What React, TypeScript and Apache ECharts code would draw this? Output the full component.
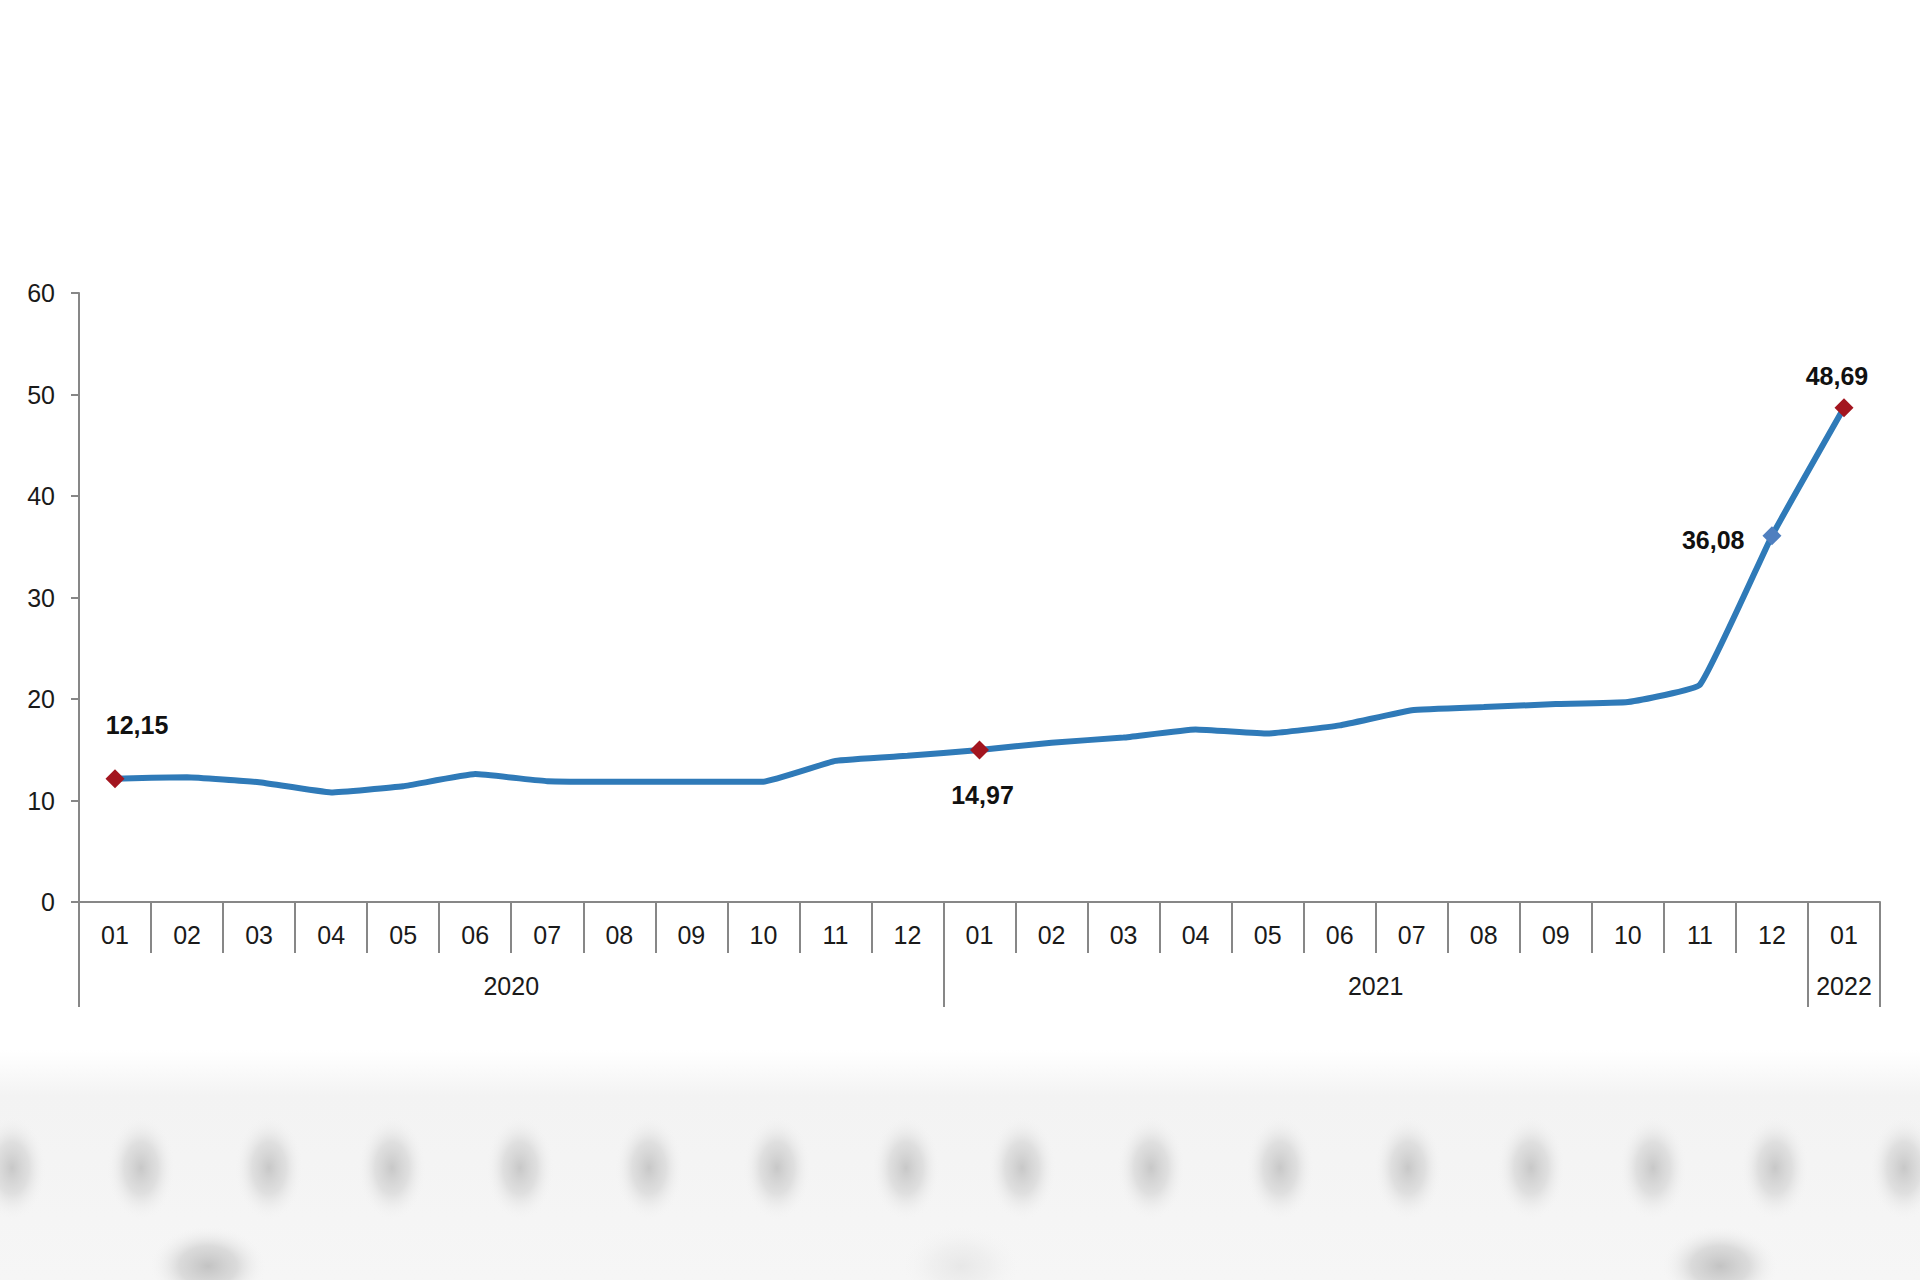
import React, { useEffect, useRef } from "react";
import * as echarts from "echarts";

const monthLabels = [
  "01", "02", "03", "04", "05", "06", "07", "08", "09", "10", "11", "12",
  "01", "02", "03", "04", "05", "06", "07", "08", "09", "10", "11", "12",
  "01",
];
const yearLabels = ["2020", "2021", "2022"];
const monthsPerYear = [12, 12, 1];
const values = [
  12.15, 12.3, 11.8, 10.8, 11.4, 12.6, 11.9, 11.85, 11.85, 11.85, 13.9, 14.4,
  14.97, 15.7, 16.2, 17.0, 16.6, 17.4, 18.9, 19.2, 19.5, 19.7, 21.4, 36.08,
  48.69,
];
const yTicks = [0, 10, 20, 30, 40, 50, 60];
const highlightIdx = [0, 12, 23, 24];

// decorative blurred band (background artefact of the source image)
const blurRowX = [12, 141, 269, 392, 520, 649, 777, 906, 1022, 1151, 1280, 1408, 1531, 1653, 1775, 1904];
const blurBottomX = [208, 961, 1720];

const FONT = "'Liberation Sans', Arial, sans-serif";

export default function App() {
  const ref = useRef<HTMLDivElement>(null);
  useEffect(() => {
    const chart = echarts.init(ref.current!, null, { renderer: "svg" });

    const markerStyle: Record<number, any> = {
      0: { color: "#a3151f", position: "top", offset: [22, -27] },
      12: { color: "#a3151f", position: "bottom", offset: [3, 18] },
      23: { color: "#4f7fbf", position: "left", offset: [-13, 4] },
      24: { color: "#a3151f", position: "top", offset: [-7, -5] },
    };

    const fmt = (v: number) => v.toFixed(2).replace(".", ",");

    const data = values.map((v, i) => {
      if (highlightIdx.indexOf(i) < 0) return { value: v };
      const m = markerStyle[i];
      return {
        value: v,
        symbol: "diamond",
        symbolSize: 19,
        itemStyle: { color: m.color },
        label: {
          show: true,
          position: m.position,
          offset: m.offset,
          formatter: () => fmt(v),
          fontFamily: FONT,
          fontWeight: "bold",
          fontSize: 25,
          color: "#111",
        },
      };
    });

    const boundaries: number[] = [0];
    monthsPerYear.forEach((n) => boundaries.push(boundaries[boundaries.length - 1] + n));
    const yearCenters = monthsPerYear.map((n, i) => boundaries[i] + n / 2);

    const gray = "#878787";

    const blurGraphics: any[] = [
      {
        type: "rect",
        silent: true,
        z: -10,
        shape: { x: 0, y: 1050, width: 1920, height: 230 },
        style: {
          fill: {
            type: "linear", x: 0, y: 0, x2: 0, y2: 1,
            colorStops: [
              { offset: 0, color: "rgba(244,244,244,0)" },
              { offset: 0.2, color: "rgba(243,243,243,1)" },
              { offset: 1, color: "rgba(246,246,246,1)" },
            ],
          },
        },
      },
      ...blurRowX.map((x) => ({
        type: "ellipse",
        silent: true,
        z: -9,
        shape: { cx: x, cy: 1168, rx: 34, ry: 52 },
        style: {
          fill: {
            type: "radial", x: 0.5, y: 0.5, r: 0.5,
            colorStops: [
              { offset: 0, color: "rgba(200,200,200,1)" },
              { offset: 0.5, color: "rgba(218,218,218,0.8)" },
              { offset: 1, color: "rgba(243,243,243,0)" },
            ],
          },
        },
      })),
      ...blurBottomX.map((x, i) => ({
        type: "ellipse",
        silent: true,
        z: -9,
        shape: { cx: x, cy: 1266, rx: 58, ry: 40 },
        style: {
          fill: {
            type: "radial", x: 0.5, y: 0.5, r: 0.5,
            colorStops: [
              { offset: 0, color: i === 1 ? "rgba(228,228,228,0.8)" : "rgba(195,195,195,1)" },
              { offset: 0.5, color: i === 1 ? "rgba(235,235,235,0.6)" : "rgba(212,212,212,0.8)" },
              { offset: 1, color: "rgba(243,243,243,0)" },
            ],
          },
        },
      })),
    ];

    const option: any = {
      animation: false,
      backgroundColor: "#ffffff",
      textStyle: { fontFamily: FONT },
      grid: { left: 79, right: 40, top: 293, bottom: 378, containLabel: false },
      graphic: blurGraphics,
      xAxis: [
        {
          type: "category",
          data: monthLabels,
          boundaryGap: true,
          position: "bottom",
          axisLine: { show: true, lineStyle: { color: gray, width: 2 } },
          axisTick: { show: true, interval: 0, length: 51, lineStyle: { color: gray, width: 2 } },
          axisLabel: { interval: 0, margin: 20, fontSize: 25, color: "#1a1a1a", fontFamily: FONT },
          splitLine: { show: false },
        },
        {
          type: "value",
          min: 0,
          max: boundaries[boundaries.length - 1],
          position: "bottom",
          axisLine: { show: false },
          axisTick: {
            show: true,
            customValues: boundaries,
            length: 105,
            lineStyle: { color: gray, width: 2 },
          },
          axisLabel: {
            show: true,
            customValues: yearCenters,
            margin: 71,
            fontSize: 25,
            color: "#1a1a1a",
            fontFamily: FONT,
            formatter: (v: number) => {
              const k = yearCenters.findIndex((c) => Math.abs(c - v) < 1e-6);
              return k >= 0 ? yearLabels[k] : "";
            },
          },
          splitLine: { show: false },
        },
      ],
      yAxis: {
        type: "value",
        min: yTicks[0],
        max: yTicks[yTicks.length - 1],
        interval: yTicks[1] - yTicks[0],
        axisLine: { show: true, lineStyle: { color: gray, width: 2 } },
        axisTick: { show: true, length: 8, lineStyle: { color: gray, width: 2 } },
        axisLabel: { margin: 24, fontSize: 25, color: "#1a1a1a", fontFamily: FONT },
        splitLine: { show: false },
      },
      series: [
        {
          type: "line",
          xAxisIndex: 0,
          data,
          symbol: "none",
          smooth: 0.1,
          lineStyle: { color: "#2f7ab8", width: 6 },
          itemStyle: { color: "#2f7ab8" },
          z: 5,
        },
      ],
    };

    chart.setOption(option);
    return () => chart.dispose();
  }, []);

  return (
    <div
      ref={ref}
      style={{ position: "fixed", left: 0, top: 0, width: 1920, height: 1280, background: "#fff" }}
    />
  );
}
